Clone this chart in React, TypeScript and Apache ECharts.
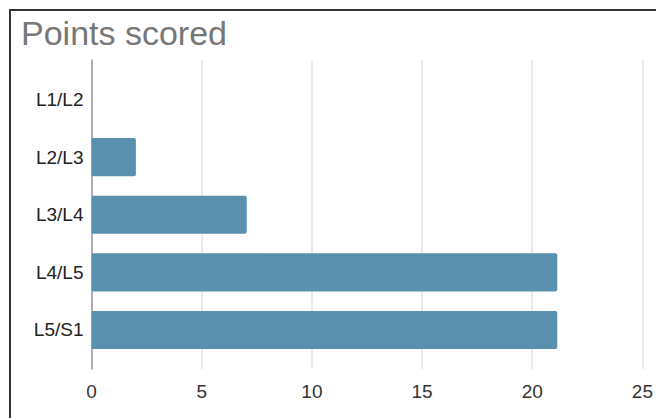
import React, { useEffect, useRef } from "react";
import * as echarts from "echarts";

const categories = ["L1/L2", "L2/L3", "L3/L4", "L4/L5", "L5/S1"];
const points = [0, 2, 7, 21, 21];
const xTicks = [0, 5, 10, 15, 20, 25];
const titleText = "Points scored";

const FONT = "'Liberation Sans', Arial, sans-serif";

export default function App() {
  const ref = useRef<HTMLDivElement>(null);
  useEffect(() => {
    if (!ref.current) return;
    const chart = echarts.init(ref.current, undefined, { renderer: "svg" });
    const xMin = xTicks[0];
    const xMax = xTicks[xTicks.length - 1];
    const step = xTicks[1] - xTicks[0];
    chart.setOption({
      animation: false,
      title: {
        text: titleText,
        left: 10,
        top: 5,
        padding: 0,
        textStyle: { fontFamily: FONT, fontSize: 34, fontWeight: "normal", color: "#777777" },
      },
      grid: [
        { left: 80.5, right: 10, top: 49, bottom: 49, containLabel: false },
        { left: 80.5, right: 10, top: 59.7, bottom: 59.2, containLabel: false },
      ],
      xAxis: [
        {
          gridIndex: 0,
          type: "value",
          min: xMin,
          max: xMax,
          interval: step,
          axisLine: { show: false },
          axisTick: { show: false },
          splitLine: { show: true, lineStyle: { color: "#e3e3e3", width: 1.5 } },
          axisLabel: { fontFamily: FONT, fontSize: 19, color: "#333333", margin: 13 },
        },
        {
          gridIndex: 1,
          type: "value",
          min: xMin,
          max: xMax,
          interval: step,
          show: false,
        },
      ],
      yAxis: [
        {
          gridIndex: 0,
          type: "value",
          min: 0,
          max: 1,
          axisLine: { show: true, onZero: false, lineStyle: { color: "#9a9a9a", width: 1.5 } },
          axisTick: { show: false },
          axisLabel: { show: false },
          splitLine: { show: false },
        },
        {
          gridIndex: 1,
          type: "category",
          inverse: true,
          data: categories,
          axisLine: { show: false },
          axisTick: { show: false },
          splitLine: { show: false },
          axisLabel: { fontFamily: FONT, fontSize: 19, color: "#222222", margin: 8 },
        },
      ],
      series: [
        {
          type: "bar",
          xAxisIndex: 1,
          yAxisIndex: 1,
          data: points,
          barCategoryGap: "34%",
          itemStyle: { color: "#5890ad", borderRadius: 2 },
        },
      ],
    });
    return () => chart.dispose();
  }, []);
  return (
    <div
      style={{
        position: "fixed",
        left: 9,
        top: 9,
        width: 647,
        height: 409,
        borderLeft: "2px solid #333",
        borderTop: "2px solid #333",
        boxSizing: "border-box",
        overflow: "hidden",
        background: "#fff",
      }}
    >
      <div ref={ref} style={{ width: 645, height: 407 }} />
    </div>
  );
}
